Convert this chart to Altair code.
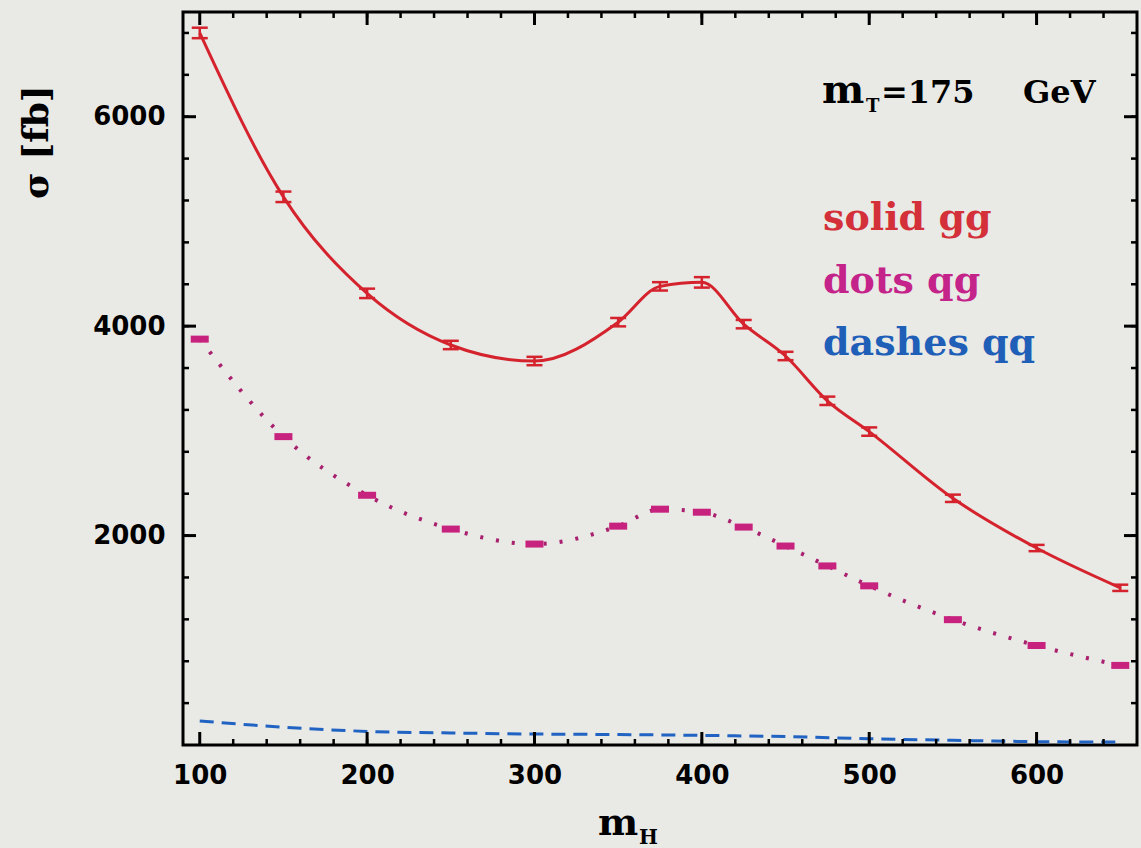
import altair as alt
import pandas as pd

# ---- data ----
mh = [100, 150, 200, 250, 300, 350, 375, 400, 425, 450, 475, 500, 550, 600, 650]
gg = [6800, 5235, 4313, 3820, 3667, 4038, 4380, 4418, 4019, 3715, 3287, 2993, 2356, 1881, 1501]
gg_err = [50, 50, 45, 40, 40, 40, 40, 50, 40, 40, 40, 40, 35, 30, 30]
qg = [3876, 2945, 2385, 2062, 1919, 2090, 2252, 2223, 2081, 1900, 1710, 1520, 1197, 950, 760]
qq_mh = [100, 150, 200, 250, 300, 350, 400, 450, 500, 550, 600, 650]
qq = [230, 170, 130, 115, 105, 100, 92, 80, 60, 45, 32, 28]

x_major = [100, 200, 300, 400, 500, 600]
x_minor = list(range(120, 660, 20))
y_major = [2000, 4000, 6000]
y_minor = list(range(400, 7000, 400))

legend_texts = ["solid gg", "dots qg", "dashes qq"]
mt_parts = ["m", "T", "=175", "GeV"]
x_title_parts = ["m", "H"]
y_title = "σ  [fb]"

RED = "#D5232E"
MAG = "#C8227F"
BLUE = "#2063C2"
BG = "#E9E9E5"

W, H = 954, 733

df_gg = pd.DataFrame({"mh": mh, "s": gg, "lo": [a - b for a, b in zip(gg, gg_err)],
                      "hi": [a + b for a, b in zip(gg, gg_err)]})
df_caps = pd.DataFrame({"mh": mh + mh,
                        "s": [a - b for a, b in zip(gg, gg_err)] + [a + b for a, b in zip(gg, gg_err)]})
df_qg = pd.DataFrame({"mh": mh, "s": qg})
df_qq = pd.DataFrame({"mh": qq_mh, "s": qq})

xs = alt.Scale(domain=[90, 660], nice=False, zero=False)
ys = alt.Scale(domain=[0, 7000], nice=False, zero=False)

FONT_AX = "DejaVu Sans"
FONT_TX = "DejaVu Serif"

x_axis = alt.Axis(orient="bottom", values=x_major, ticks=False, domain=False, grid=False,
                  title=None, labelFont=FONT_AX, labelFontWeight="bold", labelFontSize=26,
                  labelColor="black", labelPadding=17, labelFlush=False, format="d")
y_axis = alt.Axis(orient="left", values=y_major, ticks=False, domain=False, grid=False,
                  title=None, labelFont=FONT_AX, labelFontWeight="bold", labelFontSize=26,
                  labelColor="black", labelPadding=18, labelFlush=False, format="d")


def X(field):
    return alt.X(field, type="quantitative", scale=xs, axis=x_axis)


def Y(field):
    return alt.Y(field, type="quantitative", scale=ys, axis=y_axis)


qq_line = alt.Chart(df_qq).mark_line(color=BLUE, strokeWidth=3, strokeDash=[14, 8],
                                     interpolate="monotone").encode(x=X("mh"), y=Y("s"))

qg_line = alt.Chart(df_qg).mark_line(color="#A8206E", strokeWidth=4, strokeDash=[3, 13],
                                     interpolate="monotone").encode(x=X("mh"), y=Y("s"))

qg_marks = alt.Chart(df_qg).mark_tick(color=MAG, orient="horizontal", size=18, thickness=7,
                                      opacity=1).encode(x=X("mh"), y=Y("s"))

gg_line = alt.Chart(df_gg).mark_line(color=RED, strokeWidth=3,
                                     interpolate="monotone").encode(x=X("mh"), y=Y("s"))

gg_err_rule = alt.Chart(df_gg).mark_rule(color=RED, strokeWidth=2.5).encode(
    x=X("mh"), y=Y("lo"), y2="hi:Q")

gg_caps = alt.Chart(df_caps).mark_tick(color=RED, orient="horizontal", size=16, thickness=2.5,
                                       opacity=1).encode(x=X("mh"), y=Y("s"))


# inward-pointing frame ticks, placed on the data scales
def xticks(values, length, width, top):
    d = pd.DataFrame({"mh": values})
    pos = length / 2 if top else H - length / 2
    return alt.Chart(d).mark_tick(color="black", orient="vertical", size=length,
                                  thickness=width, opacity=1).encode(x=X("mh"), y=alt.value(pos))


def yticks(values, length, width, right):
    d = pd.DataFrame({"s": values})
    pos = W - length / 2 if right else length / 2
    return alt.Chart(d).mark_tick(color="black", orient="horizontal", size=length,
                                  thickness=width, opacity=1).encode(y=Y("s"), x=alt.value(pos))


frame_ticks = [
    xticks(x_minor, 6, 2.5, False), xticks(x_major, 13, 3, False),
    xticks(x_minor, 6, 2.5, True), xticks(x_major, 13, 3, True),
    yticks(y_minor, 6, 2.5, False), yticks(y_major, 13, 3, False),
    yticks(y_minor, 6, 2.5, True), yticks(y_major, 13, 3, True),
]


def txt(t, x, y, size, color="black", angle=0, align="left", baseline="alphabetic"):
    return alt.Chart(pd.DataFrame({"t": [t]})).mark_text(
        font=FONT_TX, fontWeight="bold", fontSize=size, color=color, angle=angle,
        align=align, baseline=baseline).encode(
        text="t:N", x=alt.value(x), y=alt.value(y))


texts = [
    txt(mt_parts[0], 639, 91, 40),
    txt(mt_parts[1], 683, 100, 18),
    txt(mt_parts[2], 698, 91, 32),
    txt(mt_parts[3], 840, 91, 32),
    txt(legend_texts[0], 640, 218, 38, "#D3303A"),
    txt(legend_texts[1], 640, 281, 38, "#C4238A"),
    txt(legend_texts[2], 640, 343, 38, "#1F5FB8"),
    txt(x_title_parts[0], 415, 823, 38),
    txt(x_title_parts[1], 456, 832, 20),
    txt(y_title, -146, 130, 36, angle=270, align="center", baseline="middle"),
]

chart = alt.layer(qq_line, qg_line, qg_marks, gg_line, gg_err_rule, gg_caps,
                  *frame_ticks, *texts).properties(
    width=W, height=H,
    padding={"left": 183, "top": 12, "right": 4, "bottom": 103},
    autosize=alt.AutoSizeParams(type="none"),
    background=BG,
).configure_view(stroke="black", strokeWidth=3, fill=BG)

chart.save("out.html", embed_options={"renderer": "svg", "actions": False})
